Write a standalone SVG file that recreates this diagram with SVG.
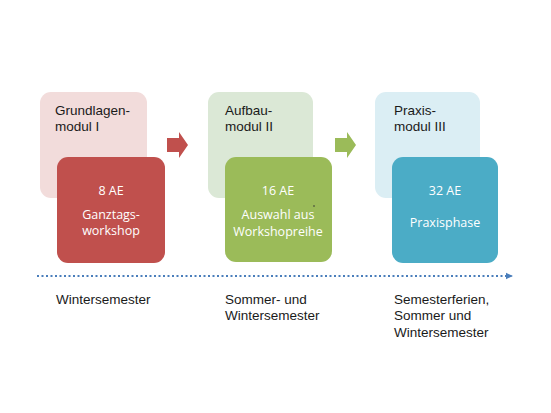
<svg xmlns="http://www.w3.org/2000/svg" width="551" height="413" viewBox="0 0 551 413">
<defs>
<style>
.lt{font-family:"Liberation Sans",Arial,sans-serif;font-size:13.5px;fill:#1a1a1a}
.wt{font-family:"Open Sans","Noto Sans",sans-serif;font-size:12.5px;fill:#ffffff;text-anchor:middle}
.bt{font-family:"Liberation Sans",Arial,sans-serif;font-size:13.5px;fill:#1a1a1a}
</style>
<marker id="ah" markerWidth="8" markerHeight="8" refX="6" refY="4" orient="auto" markerUnits="userSpaceOnUse">
<path d="M0,0.8 L7,4 L0,7.2 Z" fill="#4a7ebb"/>
</marker>
</defs>
<rect width="551" height="413" fill="#ffffff"/>
<g id="module1">
<rect x="40" y="92" width="107" height="106" rx="11" fill="#f2dcdb"/>
<text class="lt" x="55" y="115">Grundlagen-</text>
<text class="lt" x="55" y="131">modul I</text>
</g>
<g id="ae1">
<rect x="57" y="157" width="108" height="106" rx="11" fill="#c0504d"/>
<text class="wt" x="111" y="195">8 AE</text>
<text class="wt" x="111" y="219">Ganztags-</text>
<text class="wt" x="111" y="235">workshop</text>
</g>
<g id="module2">
<rect x="208" y="92" width="105" height="106" rx="11" fill="#dbe8d6"/>
<text class="lt" x="225" y="115">Aufbau-</text>
<text class="lt" x="225" y="131">modul II</text>
</g>
<g id="ae2">
<rect x="225" y="157" width="107" height="105" rx="11" fill="#9bbb59"/>
<text class="wt" x="278" y="195">16 AE</text>
<text class="wt" x="278" y="219">Auswahl aus</text>
<text class="wt" x="278" y="236">Workshopreihe</text>
<circle cx="314" cy="206" r="0.8" fill="#333"/>
</g>
<g id="module3">
<rect x="375" y="92" width="105" height="106" rx="11" fill="#dbeef4"/>
<text class="lt" x="394" y="115">Praxis-</text>
<text class="lt" x="394" y="131">modul III</text>
</g>
<g id="ae3">
<rect x="392" y="157" width="106" height="106" rx="11" fill="#4bacc6"/>
<text class="wt" x="445" y="195">32 AE</text>
<text class="wt" x="445" y="227">Praxisphase</text>
</g>
<g id="connectors">
<path d="M167,138 L179,138 L179,132 L188,145 L179,158 L179,152 L167,152 Z" fill="#c0504d"/>
<path d="M335,138 L347,138 L347,132 L356,145 L347,158 L347,152 L335,152 Z" fill="#9bbb59"/>
<line x1="37" y1="276" x2="512" y2="276" stroke="#4a7ebb" stroke-width="2" stroke-dasharray="2,2.5" marker-end="url(#ah)"/>
</g>
<g id="timeline-labels">
<text class="bt" x="56" y="304">Wintersemester</text>
<text class="bt" x="225" y="304">Sommer- und</text>
<text class="bt" x="225" y="320">Wintersemester</text>
<text class="bt" x="394" y="304">Semesterferien,</text>
<text class="bt" x="394" y="320">Sommer und</text>
<text class="bt" x="394" y="337">Wintersemester</text>
</g>
</svg>
